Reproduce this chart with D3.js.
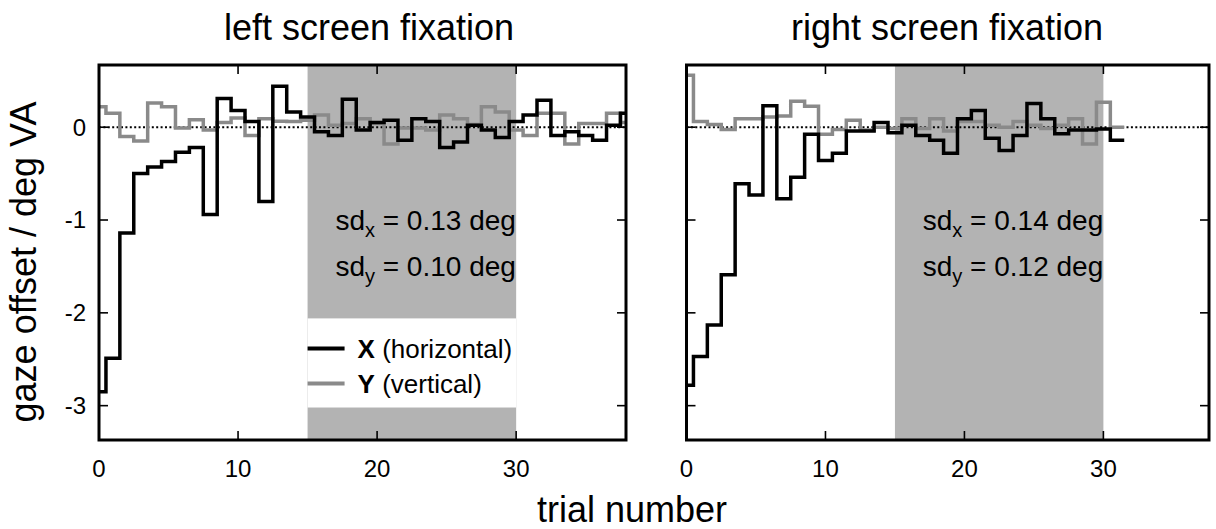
<!DOCTYPE html>
<html>
<head>
<meta charset="utf-8">
<script src="https://cdn.jsdelivr.net/npm/d3@7"></script>
<style>
  body { margin: 0; background: #fff; }
  svg { display: block; }
  text { font-family: "Liberation Sans", Arial, Helvetica, sans-serif; fill: #000; }
</style>
</head>
<body>
<svg id="fig" width="1216" height="529"></svg>
<script>
// Per-trial gaze offsets (deg of visual angle), trial index starts at 0
const leftX = [-2.85, -2.49, -1.14, -0.50, -0.43, -0.37, -0.27, -0.22, -0.94, 0.31,
               0.18, 0.06, -0.80, 0.44, 0.165, 0.11, -0.05, -0.09, 0.30, -0.03,
               0.05, 0.075, -0.14, 0.09, 0.06, -0.22, -0.16, 0.02, -0.03, -0.11,
               0.06, 0.13, 0.29, -0.09, -0.05, -0.09, -0.14, 0.02, 0.15];
const leftY = [0.22, 0.15, -0.10, -0.15, 0.26, 0.22, -0.01, 0.08, -0.03, 0.05,
               0.10, -0.09, 0.09, 0.065, 0.06, 0.075, 0.13, 0.02, 0.04, 0.09,
               0.04, -0.18, -0.01, -0.01, -0.03, 0.13, 0.09, 0.03, 0.22, 0.165,
               -0.03, -0.09, 0.15, 0.15, -0.18, 0.04, 0.04, 0.15, 0.05];
const rightX = [-2.78, -2.47, -2.13, -1.59, -0.61, -0.73, 0.23, -0.77, -0.54, -0.075,
                -0.36, -0.28, -0.04, -0.04, 0.05, -0.06, 0.02, -0.09, -0.14, -0.28,
                0.09, 0.18, -0.12, -0.25, -0.09, 0.255, 0.09, -0.07, -0.03, -0.03,
                -0.02, -0.14];
const rightY = [0.56, 0.06, 0.03, -0.025, 0.09, 0.09, 0.11, 0.12, 0.28, 0.225,
                -0.075, -0.025, 0.075, -0.03, 0.00, -0.015, 0.09, -0.015, 0.09, -0.04,
                0.06, 0.06, 0.02, 0.00, 0.06, 0.02, -0.015, 0.02, 0.09, -0.18,
                0.27, 0.00];

const xTicks = [0, 10, 20, 30];
const yTicks = [0, -1, -2, -3];
const stableWindow = [15, 30];          // trials used for the sd estimate
const sdLeft = ["0.13", "0.10"];
const sdRight = ["0.14", "0.12"];
const titles = ["left screen fixation", "right screen fixation"];
const legendItems = [
  { key: "X", desc: " (horizontal)", color: "#000" },
  { key: "Y", desc: " (vertical)", color: "#8a8a8a" }
];

const svg = d3.select("#fig");
svg.append("rect").attr("width", 1216).attr("height", 529).attr("fill", "#fff");

const plotTop = 65, plotBottom = 440;
const yDomain = [-3.37, 0.67];

const panels = [
  { id: "L", title: titles[0], sx: leftX, sy: leftY, sd: sdLeft,
    left: 99, right: 626, xMax: 37.9, yLabels: true, legend: true, titleX: 369 },
  { id: "R", title: titles[1], sx: rightX, sy: rightY, sd: sdRight,
    left: 686.5, right: 1209, xMax: 37.6, yLabels: false, legend: false, titleX: 947 }
];

// edges of the per-trial histogram steps: each trial spans [i-0.5, i+0.5]
function stepEdges(vals) {
  const pts = vals.map((v, i) => [i - 0.5, v]);
  pts.push([vals.length - 0.5, vals[vals.length - 1]]);
  return pts;
}

panels.forEach(p => {
  const x = d3.scaleLinear().domain([0, p.xMax]).range([p.left, p.right]);
  const y = d3.scaleLinear().domain(yDomain).range([plotBottom, plotTop]);
  const g = svg.append("g");

  const clipId = "clip" + p.id;
  svg.append("clipPath").attr("id", clipId)
    .append("rect").attr("x", p.left).attr("y", plotTop)
    .attr("width", p.right - p.left).attr("height", plotBottom - plotTop);

  // shaded window of stable trials
  g.append("rect")
    .attr("x", x(stableWindow[0])).attr("width", x(stableWindow[1]) - x(stableWindow[0]))
    .attr("y", plotTop).attr("height", plotBottom - plotTop)
    .attr("fill", "#b3b3b3");

  // key box (opaque) sitting over the shading
  if (p.legend) {
    g.append("rect")
      .attr("x", x(stableWindow[0])).attr("width", x(stableWindow[1]) - x(stableWindow[0]))
      .attr("y", y(-2.06)).attr("height", y(-3.02) - y(-2.06))
      .attr("fill", "#fff");
  }

  // zero reference
  g.append("line")
    .attr("x1", p.left).attr("x2", p.right)
    .attr("y1", y(0)).attr("y2", y(0))
    .attr("stroke", "#000").attr("stroke-width", 2)
    .attr("stroke-dasharray", "2,2.4");

  const line = d3.line()
    .x(d => x(d[0])).y(d => y(d[1]))
    .curve(d3.curveStepAfter);

  const series = g.append("g").attr("clip-path", `url(#${clipId})`);
  series.append("path").datum(stepEdges(p.sy))
    .attr("d", line).attr("fill", "none")
    .attr("stroke", legendItems[1].color).attr("stroke-width", 3.5)
    .attr("stroke-linejoin", "miter");
  series.append("path").datum(stepEdges(p.sx))
    .attr("d", line).attr("fill", "none")
    .attr("stroke", legendItems[0].color).attr("stroke-width", 3.5)
    .attr("stroke-linejoin", "miter");

  // sd annotations
  [["x", p.sd[0], -1.0], ["y", p.sd[1], -1.5]].forEach(([sub, val, yv]) => {
    const t = g.append("text")
      .attr("x", x(17)).attr("y", y(yv)).attr("dy", "0.35em")
      .attr("font-size", 28);
    t.append("tspan").text("sd");
    t.append("tspan").attr("font-size", 20).attr("dy", 7).text(sub);
    t.append("tspan").attr("dy", -7).text(" = " + val + " deg");
  });

  // legend
  if (p.legend) {
    const boxTop = y(-2.06);
    legendItems.forEach((it, i) => {
      const ly = boxTop + 30 + i * 35;
      g.append("line")
        .attr("x1", x(stableWindow[0])).attr("x2", x(stableWindow[0]) + 37)
        .attr("y1", ly).attr("y2", ly)
        .attr("stroke", it.color).attr("stroke-width", 4);
      const t = g.append("text")
        .attr("x", x(stableWindow[0]) + 50).attr("y", ly).attr("dy", "0.35em")
        .attr("font-size", 26);
      t.append("tspan").attr("font-weight", "bold").text(it.key);
      t.append("tspan").text(it.desc);
    });
  }

  // ticks, mirrored on all sides, pointing inward
  const tl = 9;
  xTicks.forEach(v => {
    g.append("line").attr("x1", x(v)).attr("x2", x(v))
      .attr("y1", plotBottom).attr("y2", plotBottom - tl)
      .attr("stroke", "#000").attr("stroke-width", 1.6);
    g.append("line").attr("x1", x(v)).attr("x2", x(v))
      .attr("y1", plotTop).attr("y2", plotTop + tl)
      .attr("stroke", "#000").attr("stroke-width", 1.6);
    g.append("text").attr("x", x(v)).attr("y", 477)
      .attr("text-anchor", "middle").attr("font-size", 24).text(v);
  });
  yTicks.forEach(v => {
    g.append("line").attr("x1", p.left).attr("x2", p.left + tl)
      .attr("y1", y(v)).attr("y2", y(v))
      .attr("stroke", "#000").attr("stroke-width", 1.6);
    g.append("line").attr("x1", p.right).attr("x2", p.right - tl)
      .attr("y1", y(v)).attr("y2", y(v))
      .attr("stroke", "#000").attr("stroke-width", 1.6);
    if (p.yLabels) {
      g.append("text").attr("x", p.left - 13).attr("y", y(v)).attr("dy", "0.35em")
        .attr("text-anchor", "end").attr("font-size", 24).text(v);
    }
  });

  // frame
  g.append("rect")
    .attr("x", p.left).attr("y", plotTop)
    .attr("width", p.right - p.left).attr("height", plotBottom - plotTop)
    .attr("fill", "none").attr("stroke", "#000").attr("stroke-width", 3);

  // panel title
  svg.append("text").attr("x", p.titleX).attr("y", 40)
    .attr("text-anchor", "middle").attr("font-size", 36).text(p.title);
});

// shared axis titles
svg.append("text")
  .attr("transform", "translate(36,262) rotate(-90)")
  .attr("text-anchor", "middle").attr("font-size", 36)
  .text("gaze offset / deg VA");
svg.append("text")
  .attr("x", 632).attr("y", 522)
  .attr("text-anchor", "middle").attr("font-size", 36)
  .text("trial number");
</script>
</body>
</html>
